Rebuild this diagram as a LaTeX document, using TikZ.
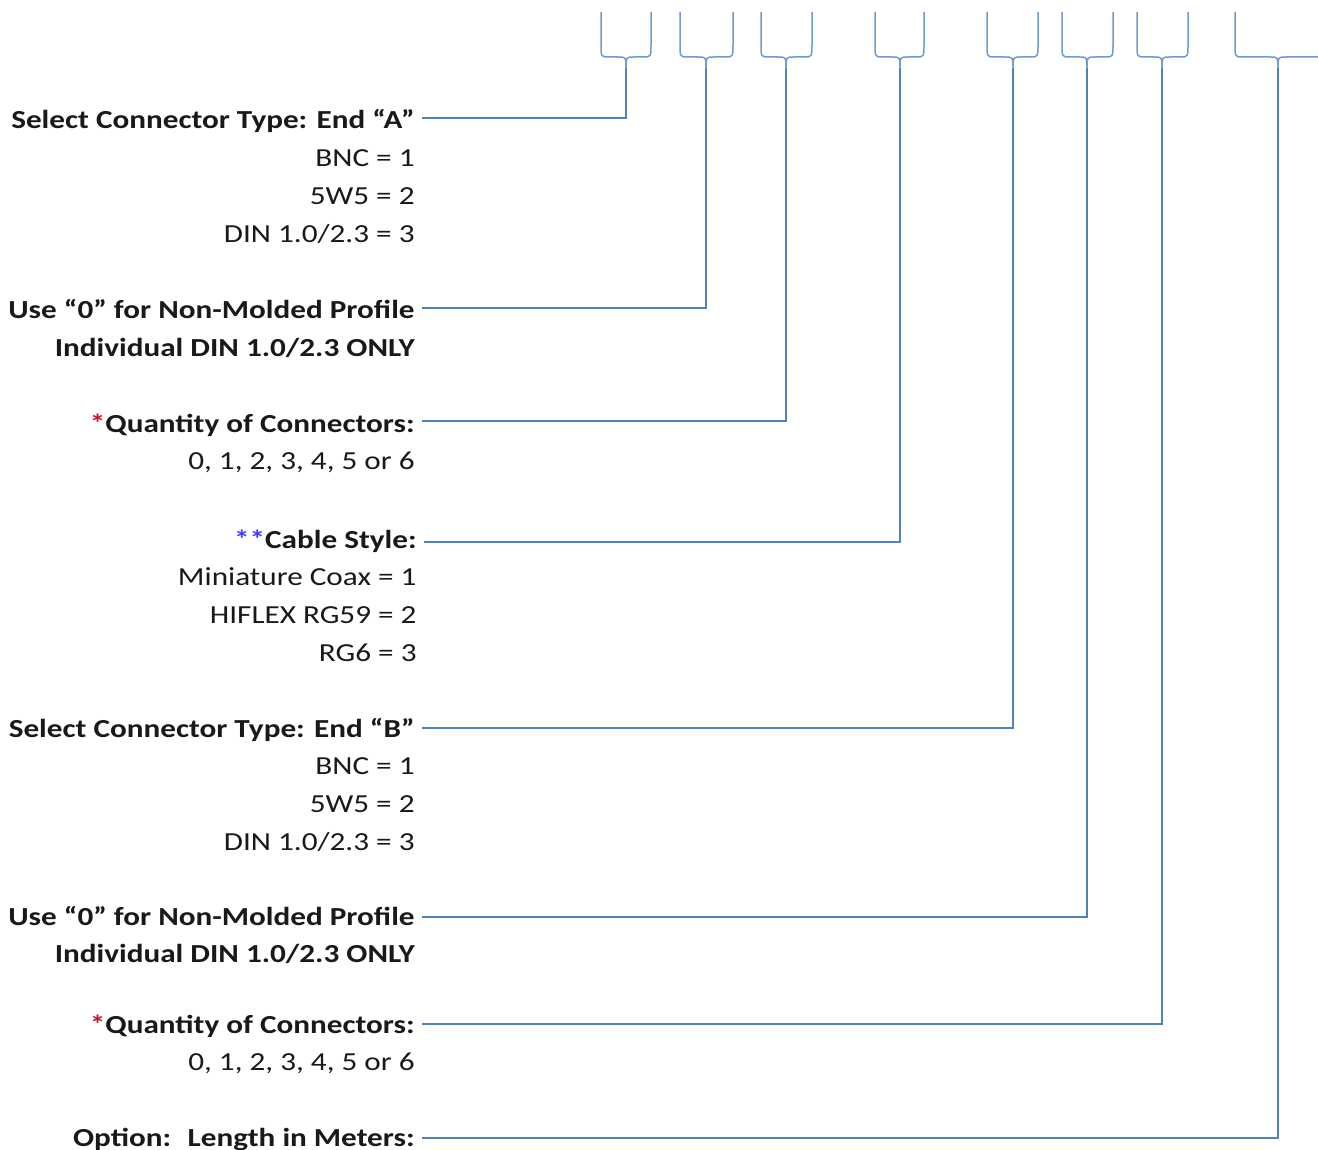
\documentclass[tikz,border=0pt]{standalone}
\usepackage{fontspec}
\setmainfont{Carlito}[FakeStretch=1.2]
\usetikzlibrary{
  calc,
  positioning,
}
\definecolor{leaderblue}{RGB}{79,129,189}
\definecolor{braceblue}{RGB}{110,155,210}
\definecolor{starred}{RGB}{200,20,30}
\definecolor{starblue}{RGB}{60,60,255}
\tikzstyle{txt} = [
  inner xsep=3.5pt,
  inner ysep=0pt,
  text height=11pt,
  text depth=0pt,
  font=\fontsize{13}{15}\selectfont,
  text=black!90,
]
\tikzstyle{head} = [
  txt,
  anchor=east,
  font=\fontsize{13}{15}\selectfont\bfseries,
]
\tikzstyle{leader} = [leaderblue, line width=0.75pt]
\tikzstyle{brace} = [braceblue, line width=0.75pt]

\begin{document}
\begin{tikzpicture}[x=0.5pt, y=-0.5pt, node distance=7.5pt and 0pt]
  \useasboundingbox (0,0) rectangle (1318,1150);

  % the eight braces over the part number
  \foreach \l/\c/\r/\n in {601/626/651/1, 680/706/733/2, 761/786/812/3, 875/900/924/4,
                           987/1013/1038/5, 1062/1087/1113/6, 1137/1162/1188/7, 1235/1278/1321/8} {
    \draw[brace] (\l,12) -- (\l,44) .. controls (\l,57) .. (\l+8,57) -- (\c-8,57)
      .. controls (\c,57) .. (\c,68) .. controls (\c,57) .. (\c+8,57) -- (\r-8,57)
      .. controls (\r,57) .. (\r,44) -- (\r,12);
    \coordinate (b\n) at (\c,68);
  }

  % end A
  \node[head] (endA) at (422,118) {Select Connector Type: End “A”};
  \node[txt] (endA1) [below left=of endA.south east] {BNC = 1};
  \node[txt] (endA2) [below left=of endA1.south east] {5W5 = 2};
  \node[txt] (endA3) [below left=of endA2.south east] {DIN 1.0/2.3 = 3};

  \node[head] (moldA) at (422,308) {Use “0” for Non-Molded Profile};
  \node[txt, font=\fontsize{13}{15}\selectfont\bfseries] (moldA1) [below left=of moldA.south east] {Individual DIN 1.0/2.3 ONLY};

  \node[head] (qtyA) at (422,421) {{\color{starred}*}Quantity of Connectors:};
  \node[txt] (qtyA1) [below left=of qtyA.south east] {0, 1, 2, 3, 4, 5 or 6};

  % cable
  \node[head] (cable) at (424,537) {{\color{starblue}**}Cable Style:};
  \node[txt] (cable1) [below left=of cable.south east] {Miniature Coax = 1};
  \node[txt] (cable2) [below left=of cable1.south east] {HIFLEX RG59 = 2};
  \node[txt] (cable3) [below left=of cable2.south east] {RG6 = 3};

  % end B
  \node[head] (endB) at (422,726) {Select Connector Type: End “B”};
  \node[txt] (endB1) [below left=of endB.south east] {BNC = 1};
  \node[txt] (endB2) [below left=of endB1.south east] {5W5 = 2};
  \node[txt] (endB3) [below left=of endB2.south east] {DIN 1.0/2.3 = 3};

  \node[head] (moldB) at (422,914) {Use “0” for Non-Molded Profile};
  \node[txt, font=\fontsize{13}{15}\selectfont\bfseries] (moldB1) [below left=of moldB.south east] {Individual DIN 1.0/2.3 ONLY};

  \node[head] (qtyB) at (422,1022) {{\color{starred}*}Quantity of Connectors:};
  \node[txt] (qtyB1) [below left=of qtyB.south east] {0, 1, 2, 3, 4, 5 or 6};

  \node[head] (len) at (422,1135) {Option:~ Length in Meters:};

  % leaders
  \draw[leader] (endA.east) -| (b1);
  \draw[leader] (moldA.east) -| (b2);
  \draw[leader] (qtyA.east) -| (b3);
  \draw[leader] ([yshift=-2.5pt]cable.east) -| (b4);
  \draw[leader] ([yshift=-1pt]endB.east) -| (b5);
  \draw[leader] ([yshift=-1.5pt]moldB.east) -| (b6);
  \draw[leader] ([yshift=-1pt]qtyB.east) -| (b7);
  \draw[leader] ([yshift=-1.5pt]len.east) -| (b8);
\end{tikzpicture}
\end{document}
